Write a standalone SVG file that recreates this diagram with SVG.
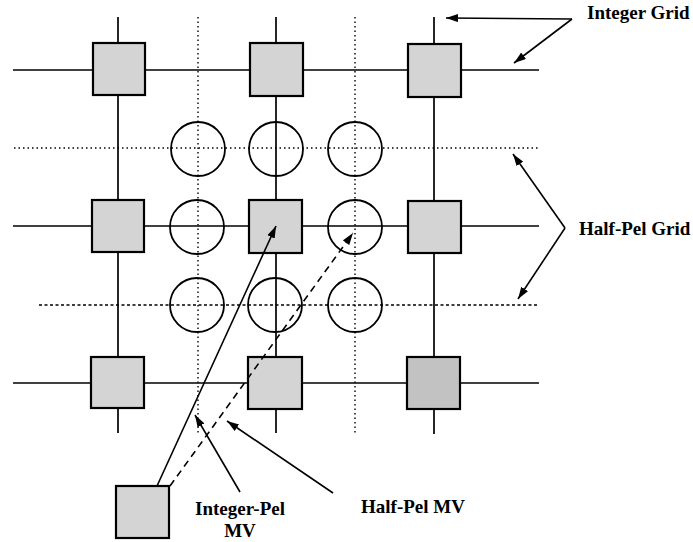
<svg xmlns="http://www.w3.org/2000/svg" width="693" height="542" viewBox="0 0 693 542">
<defs>
<style>
.grid{stroke:#000;stroke-width:1.7;fill:none}
.half{stroke:#000;stroke-width:1.4;fill:none;stroke-dasharray:1.5 3}
.half2{stroke:#000;stroke-width:1.5;fill:none;stroke-dasharray:3 2.5}
.sq{fill:#d4d4d4;stroke:#000;stroke-width:2.2}
.sqd{fill:#c2c2c2;stroke:#000;stroke-width:2.2}
.circ{fill:none;stroke:#000;stroke-width:1.8}
.arr{stroke:#000;stroke-width:1.6;fill:none;marker-end:url(#ah)}
.dash{stroke:#000;stroke-width:1.6;fill:none;stroke-dasharray:7 5;marker-end:url(#ah)}
.lbl{font-family:"Liberation Serif","Times New Roman",serif;font-size:19px;font-weight:bold;fill:#000}
</style>
<marker id="ah" viewBox="0 0 12 8" refX="12" refY="4" markerWidth="12" markerHeight="8" markerUnits="userSpaceOnUse" orient="auto">
<path d="M0,0 L12,4 L0,8 Z" fill="#000"/>
</marker>
</defs>
<g id="grid-lines">
<line class="grid" x1="13" y1="70" x2="539" y2="70"/>
<line class="grid" x1="13" y1="226" x2="539" y2="226"/>
<line class="grid" x1="13" y1="383" x2="539" y2="383"/>
<line class="grid" x1="118" y1="17" x2="118" y2="433"/>
<line class="grid" x1="276" y1="17" x2="276" y2="433"/>
<line class="grid" x1="434" y1="17" x2="434" y2="434"/>
<line class="half" x1="198" y1="17" x2="198" y2="433"/>
<line class="half" x1="355" y1="17" x2="355" y2="433"/>
<line class="half" x1="14" y1="148" x2="539" y2="148"/>
<line class="half2" x1="39" y1="305" x2="539" y2="305"/>
</g>
<g id="half-pel-points">
<circle class="circ" cx="198" cy="149" r="27"/>
<circle class="circ" cx="276" cy="149" r="27"/>
<circle class="circ" cx="355" cy="149" r="27"/>
<circle class="circ" cx="197" cy="227" r="27"/>
<circle class="circ" cx="355" cy="227" r="27"/>
<circle class="circ" cx="197" cy="305" r="27"/>
<circle class="circ" cx="275" cy="305" r="27"/>
<circle class="circ" cx="355" cy="305" r="27"/>
</g>
<g id="integer-pels">
<rect class="sq" x="93" y="43" width="52" height="52"/>
<rect class="sq" x="250" y="43" width="53" height="53"/>
<rect class="sq" x="408" y="44" width="53" height="53"/>
<rect class="sq" x="92" y="200" width="52" height="52"/>
<rect class="sq" x="249" y="200" width="53" height="53"/>
<rect class="sq" x="408" y="201" width="53" height="52"/>
<rect class="sq" x="91" y="357" width="53" height="51"/>
<rect class="sq" x="248" y="357" width="54" height="52"/>
<rect class="sqd" x="407" y="357" width="53" height="52"/>
</g>
<g id="source-block">
<rect class="sq" x="116" y="486" width="53" height="52"/>
</g>
<g id="connectors">
<line class="arr" x1="157" y1="486" x2="276" y2="226"/>
<line class="dash" x1="170" y1="486" x2="353" y2="233"/>
<line class="arr" x1="572" y1="19" x2="446" y2="18"/>
<line class="arr" x1="572" y1="19" x2="514" y2="63"/>
<line class="arr" x1="565" y1="228" x2="513" y2="154"/>
<line class="arr" x1="565" y1="228" x2="518" y2="299"/>
<line class="arr" x1="240" y1="492" x2="195" y2="415"/>
<line class="arr" x1="333" y1="493" x2="227" y2="421"/>
</g>
<g id="labels">
<text class="lbl" x="587" y="19">Integer Grid</text>
<text class="lbl" x="579" y="235">Half-Pel Grid</text>
<text class="lbl" x="361" y="513">Half-Pel MV</text>
<text class="lbl" x="240" y="515" text-anchor="middle">Integer-Pel</text>
<text class="lbl" x="240" y="537" text-anchor="middle">MV</text>
</g>
</svg>
